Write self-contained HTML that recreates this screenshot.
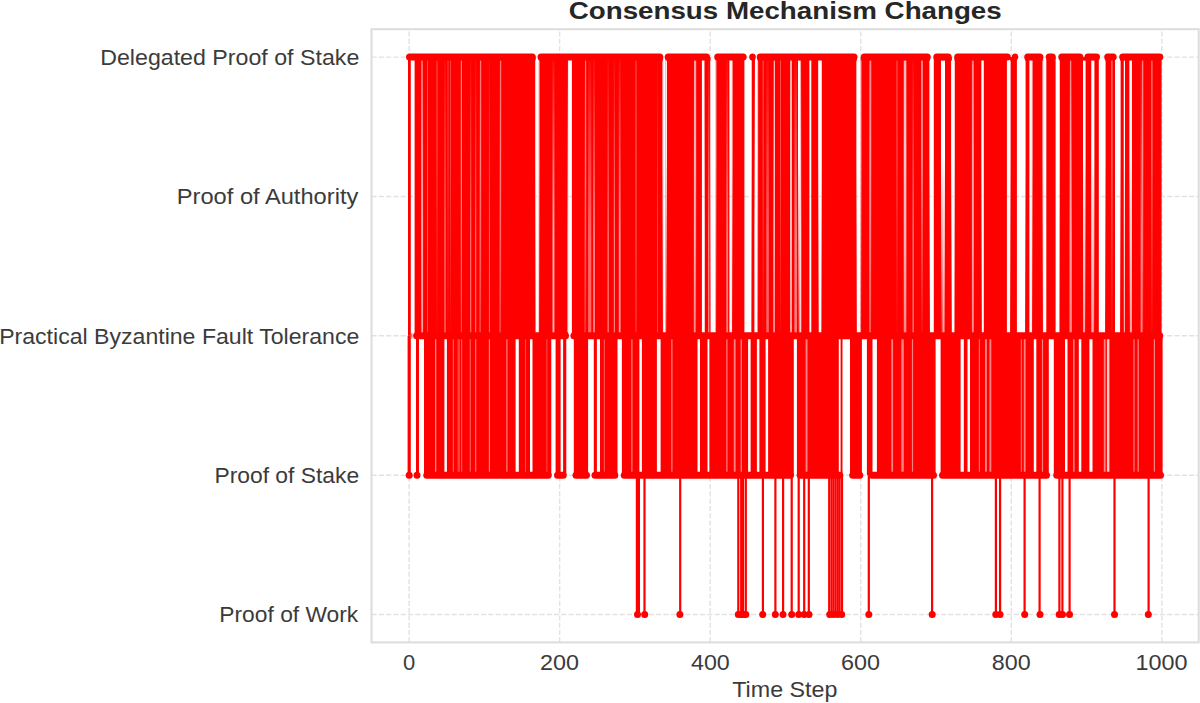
<!DOCTYPE html>
<html><head><meta charset="utf-8"><title>Consensus Mechanism Changes</title>
<style>html,body{margin:0;padding:0;background:#fff;}body{width:1200px;height:703px;overflow:hidden;}svg{display:block;}</style>
</head><body>
<svg width="1200" height="703" viewBox="0 0 1200 703">
<defs><linearGradient id="fd" x1="0" y1="0" x2="0" y2="1"><stop offset="0" stop-color="#fff"/><stop offset="0.35" stop-color="#fff"/><stop offset="1" stop-color="#fff" stop-opacity="0.1"/></linearGradient><linearGradient id="fu" x1="0" y1="0" x2="0" y2="1"><stop offset="0" stop-color="#fff" stop-opacity="0.1"/><stop offset="0.65" stop-color="#fff"/><stop offset="1" stop-color="#fff"/></linearGradient></defs>
<rect width="1200" height="703" fill="#fff"/>
<g stroke="#e2e2e2" stroke-width="1.4" stroke-dasharray="5.1 2.2" fill="none"><line x1="409.1" y1="642.4" x2="409.1" y2="29.2"/><line x1="559.65" y1="642.4" x2="559.65" y2="29.2"/><line x1="710.2" y1="642.4" x2="710.2" y2="29.2"/><line x1="860.75" y1="642.4" x2="860.75" y2="29.2"/><line x1="1011.3" y1="642.4" x2="1011.3" y2="29.2"/><line x1="1161.85" y1="642.4" x2="1161.85" y2="29.2"/><line x1="371.5" y1="57.1" x2="1198.7" y2="57.1"/><line x1="371.5" y1="196.5" x2="1198.7" y2="196.5"/><line x1="371.5" y1="335.8" x2="1198.7" y2="335.8"/><line x1="371.5" y1="475.2" x2="1198.7" y2="475.2"/><line x1="371.5" y1="614.5" x2="1198.7" y2="614.5"/></g>
<g fill="#ff0000"><rect x="408" y="57.1" width="2.8" height="278.7"/><rect x="414.6" y="57.1" width="121" height="278.7"/><rect x="538.8" y="57.1" width="29.3" height="278.7"/><rect x="571.9" y="57.1" width="91.2" height="278.7"/><rect x="665.6" y="57.1" width="36.3" height="278.7"/><rect x="704.4" y="57.1" width="6.2" height="278.7"/><rect x="715.6" y="57.1" width="13.8" height="278.7"/><rect x="731.9" y="57.1" width="12.5" height="278.7"/><rect x="751.3" y="57.1" width="3.7" height="278.7"/><rect x="757.5" y="57.1" width="51.9" height="278.7"/><rect x="811.3" y="57.1" width="7.5" height="278.7"/><rect x="821.3" y="57.1" width="35.6" height="278.7"/><rect x="860.6" y="57.1" width="69.4" height="278.7"/><rect x="933.8" y="57.1" width="18.1" height="278.7"/><rect x="954.4" y="57.1" width="27.5" height="278.7"/><rect x="983.8" y="57.1" width="23.1" height="278.7"/><rect x="1010" y="57.1" width="6.9" height="278.7"/><rect x="1025" y="57.1" width="4.4" height="278.7"/><rect x="1031.9" y="57.1" width="11.2" height="278.7"/><rect x="1046.3" y="57.1" width="9.3" height="278.7"/><rect x="1059.4" y="57.1" width="39.4" height="278.7"/><rect x="1105" y="57.1" width="10" height="278.7"/><rect x="1120" y="57.1" width="41.6" height="278.7"/><rect x="407.6" y="335.8" width="3.2" height="139.4"/><rect x="416" y="335.8" width="3" height="139.4"/><rect x="424" y="335.8" width="20.4" height="139.4"/><rect x="446.9" y="335.8" width="68.7" height="139.4"/><rect x="518.8" y="335.8" width="11.2" height="139.4"/><rect x="532.5" y="335.8" width="18.8" height="139.4"/><rect x="555.6" y="335.8" width="5" height="139.4"/><rect x="563.1" y="335.8" width="3.2" height="139.4"/><rect x="573.8" y="335.8" width="14.3" height="139.4"/><rect x="593.8" y="335.8" width="3.1" height="139.4"/><rect x="600" y="335.8" width="17.5" height="139.4"/><rect x="621.9" y="335.8" width="17.5" height="139.4"/><rect x="641.9" y="335.8" width="15" height="139.4"/><rect x="660.6" y="335.8" width="36.9" height="139.4"/><rect x="700" y="335.8" width="7.5" height="139.4"/><rect x="709.4" y="335.8" width="38.7" height="139.4"/><rect x="750.6" y="335.8" width="6.3" height="139.4"/><rect x="759.4" y="335.8" width="6.2" height="139.4"/><rect x="768.1" y="335.8" width="25.7" height="139.4"/><rect x="796.9" y="335.8" width="41.9" height="139.4"/><rect x="840.6" y="335.8" width="1.9" height="139.4"/><rect x="850" y="335.8" width="11.9" height="139.4"/><rect x="866.9" y="335.8" width="5.6" height="139.4"/><rect x="876.9" y="335.8" width="58.7" height="139.4"/><rect x="940.6" y="335.8" width="20" height="139.4"/><rect x="963.8" y="335.8" width="3.7" height="139.4"/><rect x="970" y="335.8" width="63.8" height="139.4"/><rect x="1036.3" y="335.8" width="12.5" height="139.4"/><rect x="1053.8" y="335.8" width="11.2" height="139.4"/><rect x="1067.5" y="335.8" width="11.3" height="139.4"/><rect x="1081.3" y="335.8" width="8.1" height="139.4"/><rect x="1092.5" y="335.8" width="70.1" height="139.4"/><rect x="635.8" y="475.2" width="2.2" height="139.3"/><rect x="637.8" y="475.2" width="2.2" height="139.3"/><rect x="643.4" y="475.2" width="2.2" height="139.3"/><rect x="679.1" y="475.2" width="2.2" height="139.3"/><rect x="737.2" y="475.2" width="2.2" height="139.3"/><rect x="740.1" y="475.2" width="2.2" height="139.3"/><rect x="741.9" y="475.2" width="2.2" height="139.3"/><rect x="744.7" y="475.2" width="2.2" height="139.3"/><rect x="761.8" y="475.2" width="2.2" height="139.3"/><rect x="774.3" y="475.2" width="2.2" height="139.3"/><rect x="782" y="475.2" width="2.2" height="139.3"/><rect x="790.6" y="475.2" width="2.2" height="139.3"/><rect x="797.6" y="475.2" width="2.2" height="139.3"/><rect x="803.1" y="475.2" width="2.2" height="139.3"/><rect x="807.7" y="475.2" width="2.2" height="139.3"/><rect x="828.1" y="475.2" width="2.2" height="139.3"/><rect x="830.4" y="475.2" width="2.2" height="139.3"/><rect x="832.4" y="475.2" width="2.2" height="139.3"/><rect x="834.5" y="475.2" width="2.2" height="139.3"/><rect x="836.6" y="475.2" width="2.2" height="139.3"/><rect x="838.5" y="475.2" width="2.2" height="139.3"/><rect x="840.9" y="475.2" width="2.2" height="139.3"/><rect x="867.7" y="475.2" width="2.2" height="139.3"/><rect x="931" y="475.2" width="2.2" height="139.3"/><rect x="994.8" y="475.2" width="2.2" height="139.3"/><rect x="999" y="475.2" width="2.2" height="139.3"/><rect x="1023.5" y="475.2" width="2.2" height="139.3"/><rect x="1038.5" y="475.2" width="2.2" height="139.3"/><rect x="1058.3" y="475.2" width="2.2" height="139.3"/><rect x="1061.3" y="475.2" width="2.2" height="139.3"/><rect x="1068.5" y="475.2" width="2.2" height="139.3"/><rect x="1113.4" y="475.2" width="2.2" height="139.3"/><rect x="1147.5" y="475.2" width="2.2" height="139.3"/><rect x="738.3" y="613.4" width="7.5" height="2.2"/><rect x="829.7" y="613.4" width="12" height="2.2"/><rect x="406" y="53.6" width="129.8" height="7" rx="3.5"/><rect x="537.5" y="53.6" width="125.8" height="7" rx="3.5"/><rect x="664.7" y="53.6" width="45.3" height="7" rx="3.5"/><rect x="714.2" y="53.6" width="32.5" height="7" rx="3.5"/><rect x="749.2" y="53.6" width="6.6" height="7" rx="3.5"/><rect x="756.7" y="53.6" width="100.8" height="7" rx="3.5"/><rect x="860.8" y="53.6" width="70" height="7" rx="3.5"/><rect x="933.3" y="53.6" width="18.4" height="7" rx="3.5"/><rect x="954.2" y="53.6" width="56.6" height="7" rx="3.5"/><rect x="1011.8" y="53.6" width="6.5" height="7" rx="3.5"/><rect x="1024.2" y="53.6" width="19.2" height="7" rx="3.5"/><rect x="1045.7" y="53.6" width="10.1" height="7" rx="3.5"/><rect x="1058.3" y="53.6" width="25" height="7" rx="3.5"/><rect x="1084.4" y="53.6" width="15.6" height="7" rx="3.5"/><rect x="1104.2" y="53.6" width="12.5" height="7" rx="3.5"/><rect x="1119.2" y="53.6" width="44.1" height="7" rx="3.5"/><rect x="411.5" y="332.3" width="0.8" height="7" rx="3.5"/><rect x="413.1" y="332.3" width="155.9" height="7" rx="3.5"/><rect x="570.4" y="332.3" width="592.8" height="7" rx="3.5"/><rect x="405.7" y="471.7" width="7" height="7" rx="3.5"/><rect x="413.5" y="471.7" width="7" height="7" rx="3.5"/><rect x="423.3" y="471.7" width="128.4" height="7" rx="3.5"/><rect x="554" y="471.7" width="12.7" height="7" rx="3.5"/><rect x="572.5" y="471.7" width="17.5" height="7" rx="3.5"/><rect x="591.5" y="471.7" width="26.8" height="7" rx="3.5"/><rect x="620.8" y="471.7" width="173.2" height="7" rx="3.5"/><rect x="796.7" y="471.7" width="46.6" height="7" rx="3.5"/><rect x="849.2" y="471.7" width="14.1" height="7" rx="3.5"/><rect x="868.3" y="471.7" width="68.7" height="7" rx="3.5"/><rect x="939" y="471.7" width="111" height="7" rx="3.5"/><rect x="1053.3" y="471.7" width="110.7" height="7" rx="3.5"/><circle cx="637.5" cy="614.5" r="3.5"/><circle cx="644.7" cy="614.5" r="3.5"/><circle cx="679.9" cy="614.5" r="3.5"/><circle cx="738.3" cy="614.5" r="3.5"/><circle cx="741.2" cy="614.5" r="3.5"/><circle cx="743.6" cy="614.5" r="3.5"/><circle cx="745.8" cy="614.5" r="3.5"/><circle cx="762.7" cy="614.5" r="3.5"/><circle cx="775.3" cy="614.5" r="3.5"/><circle cx="783" cy="614.5" r="3.5"/><circle cx="791.7" cy="614.5" r="3.5"/><circle cx="798.7" cy="614.5" r="3.5"/><circle cx="804.2" cy="614.5" r="3.5"/><circle cx="809" cy="614.5" r="3.5"/><circle cx="829.7" cy="614.5" r="3.5"/><circle cx="833.3" cy="614.5" r="3.5"/><circle cx="837.5" cy="614.5" r="3.5"/><circle cx="841.7" cy="614.5" r="3.5"/><circle cx="868.8" cy="614.5" r="3.5"/><circle cx="932.2" cy="614.5" r="3.5"/><circle cx="995.8" cy="614.5" r="3.5"/><circle cx="1000" cy="614.5" r="3.5"/><circle cx="1024.7" cy="614.5" r="3.5"/><circle cx="1040" cy="614.5" r="3.5"/><circle cx="1059.2" cy="614.5" r="3.5"/><circle cx="1062.5" cy="614.5" r="3.5"/><circle cx="1069.5" cy="614.5" r="3.5"/><circle cx="1114.5" cy="614.5" r="3.5"/><circle cx="1148.3" cy="614.5" r="3.5"/></g>
<g fill="#ffffff"><rect x="421.4" y="60.6" width="1.2" height="271.7" fill="url(#fd)" fill-opacity="0.6"/><rect x="436.5" y="60.6" width="1" height="271.7" fill="url(#fd)" fill-opacity="0.3"/><rect x="460.8" y="60.6" width="1.1" height="271.7" fill="url(#fd)" fill-opacity="0.5"/><rect x="480.1" y="60.6" width="1.1" height="271.7" fill="url(#fd)" fill-opacity="0.5"/><rect x="500.1" y="60.6" width="1.1" height="271.7" fill="url(#fd)" fill-opacity="0.5"/><rect x="585.1" y="60.6" width="1.1" height="271.7" fill="url(#fd)" fill-opacity="0.5"/><rect x="635.5" y="60.6" width="1" height="271.7" fill="url(#fd)" fill-opacity="0.3"/><rect x="694" y="60.6" width="2.2" height="271.7" fill="url(#fd)" fill-opacity="0.6"/><rect x="762.6" y="60.6" width="1.1" height="271.7" fill="url(#fd)" fill-opacity="0.3"/><rect x="773.8" y="60.6" width="1.2" height="271.7" fill="url(#fd)" fill-opacity="0.7"/><rect x="780" y="60.6" width="1" height="271.7" fill="url(#fd)" fill-opacity="0.3"/><rect x="790.2" y="60.6" width="1.6" height="271.7" fill="url(#fd)" fill-opacity="0.8"/><rect x="869.4" y="60.6" width="1.9" height="271.7" fill="url(#fd)" fill-opacity="0.5"/><rect x="896.4" y="60.6" width="1.2" height="271.7" fill="url(#fd)" fill-opacity="0.3"/><rect x="903.8" y="60.6" width="2.5" height="271.7" fill="url(#fd)" fill-opacity="0.7"/><rect x="921" y="60.6" width="2" height="271.7" fill="url(#fd)" fill-opacity="0.5"/><rect x="971.9" y="60.6" width="1.9" height="271.7" fill="url(#fd)" fill-opacity="0.5"/><rect x="1070" y="60.6" width="1.2" height="271.7" fill="url(#fd)" fill-opacity="0.5"/><rect x="1111.3" y="60.6" width="1.2" height="271.7" fill="url(#fd)" fill-opacity="0.5"/><rect x="1142.4" y="60.6" width="0.8" height="271.7" fill="url(#fd)" fill-opacity="0.8"/><rect x="1151.3" y="60.6" width="1.2" height="271.7" fill="url(#fd)" fill-opacity="0.5"/><rect x="427" y="60.6" width="1" height="271.7" fill="url(#fd)" fill-opacity="0.25"/><rect x="447.5" y="60.6" width="1" height="271.7" fill="url(#fd)" fill-opacity="0.25"/><rect x="450" y="60.6" width="1" height="271.7" fill="url(#fd)" fill-opacity="0.25"/><rect x="535" y="60.6" width="0.6" height="271.7" fill="url(#fd)" fill-opacity="1"/><rect x="538.8" y="60.6" width="0.6" height="271.7" fill="url(#fd)" fill-opacity="1"/><rect x="662.5" y="60.6" width="0.6" height="271.7" fill="url(#fd)" fill-opacity="1"/><rect x="665.6" y="60.6" width="1.3" height="271.7" fill="url(#fd)" fill-opacity="1"/><rect x="710" y="60.6" width="0.6" height="271.7" fill="url(#fd)" fill-opacity="1"/><rect x="715.6" y="60.6" width="0.7" height="271.7" fill="url(#fd)" fill-opacity="1"/><rect x="731.9" y="60.6" width="0.6" height="271.7" fill="url(#fd)" fill-opacity="1"/><rect x="751.3" y="60.6" width="0.6" height="271.7" fill="url(#fd)" fill-opacity="1"/><rect x="757.5" y="60.6" width="0.6" height="271.7" fill="url(#fd)" fill-opacity="1"/><rect x="798" y="60.6" width="2.6" height="271.7" fill="url(#fd)" fill-opacity="1"/><rect x="818" y="60.6" width="0.8" height="271.7" fill="url(#fd)" fill-opacity="1"/><rect x="821.3" y="60.6" width="0.7" height="271.7" fill="url(#fd)" fill-opacity="1"/><rect x="856.3" y="60.6" width="0.6" height="271.7" fill="url(#fd)" fill-opacity="1"/><rect x="860.6" y="60.6" width="0.7" height="271.7" fill="url(#fd)" fill-opacity="1"/><rect x="929.4" y="60.6" width="0.6" height="271.7" fill="url(#fd)" fill-opacity="1"/><rect x="941" y="60.6" width="4" height="271.7" fill="url(#fd)" fill-opacity="1"/><rect x="951" y="60.6" width="0.9" height="271.7" fill="url(#fd)" fill-opacity="1"/><rect x="954.4" y="60.6" width="0.6" height="271.7" fill="url(#fd)" fill-opacity="1"/><rect x="981.3" y="60.6" width="0.6" height="271.7" fill="url(#fd)" fill-opacity="1"/><rect x="1010" y="60.6" width="0.6" height="271.7" fill="url(#fd)" fill-opacity="1"/><rect x="1025" y="60.6" width="0.6" height="271.7" fill="url(#fd)" fill-opacity="1"/><rect x="1031.9" y="60.6" width="0.6" height="271.7" fill="url(#fd)" fill-opacity="1"/><rect x="1042.5" y="60.6" width="0.6" height="271.7" fill="url(#fd)" fill-opacity="1"/><rect x="1059.4" y="60.6" width="0.6" height="271.7" fill="url(#fd)" fill-opacity="1"/><rect x="1083" y="60.6" width="2.6" height="271.7" fill="url(#fd)" fill-opacity="1"/><rect x="1091.3" y="60.6" width="3.1" height="271.7" fill="url(#fd)" fill-opacity="1"/><rect x="1105" y="60.6" width="0.6" height="271.7" fill="url(#fd)" fill-opacity="1"/><rect x="1120" y="60.6" width="0.6" height="271.7" fill="url(#fd)" fill-opacity="1"/><rect x="1123.8" y="60.6" width="1.2" height="271.7" fill="url(#fd)" fill-opacity="1"/><rect x="1129.4" y="60.6" width="2.5" height="271.7" fill="url(#fd)" fill-opacity="1"/><rect x="421.3" y="60.6" width="1.8" height="271.7" fill="url(#fu)" fill-opacity="0.6"/><rect x="427" y="60.6" width="1" height="271.7" fill="url(#fu)" fill-opacity="0.25"/><rect x="444.4" y="60.6" width="1.2" height="271.7" fill="url(#fu)" fill-opacity="0.5"/><rect x="460.8" y="60.6" width="1" height="271.7" fill="url(#fu)" fill-opacity="0.3"/><rect x="470" y="60.6" width="1.3" height="271.7" fill="url(#fu)" fill-opacity="0.4"/><rect x="475" y="60.6" width="1.3" height="271.7" fill="url(#fu)" fill-opacity="0.4"/><rect x="479.5" y="60.6" width="1" height="271.7" fill="url(#fu)" fill-opacity="0.4"/><rect x="488.9" y="60.6" width="1" height="271.7" fill="url(#fu)" fill-opacity="0.4"/><rect x="499.5" y="60.6" width="1" height="271.7" fill="url(#fu)" fill-opacity="0.4"/><rect x="552.5" y="60.6" width="1.9" height="271.7" fill="url(#fu)" fill-opacity="0.7"/><rect x="584.5" y="60.6" width="1" height="271.7" fill="url(#fu)" fill-opacity="0.3"/><rect x="588.1" y="60.6" width="3.2" height="271.7" fill="url(#fu)" fill-opacity="0.4"/><rect x="593.1" y="60.6" width="1.9" height="271.7" fill="url(#fu)" fill-opacity="0.5"/><rect x="607.5" y="60.6" width="1.3" height="271.7" fill="url(#fu)" fill-opacity="0.5"/><rect x="613.8" y="60.6" width="1.2" height="271.7" fill="url(#fu)" fill-opacity="0.5"/><rect x="618.8" y="60.6" width="1.8" height="271.7" fill="url(#fu)" fill-opacity="0.6"/><rect x="635.5" y="60.6" width="1" height="271.7" fill="url(#fu)" fill-opacity="0.25"/><rect x="657" y="60.6" width="1" height="271.7" fill="url(#fu)" fill-opacity="0.25"/><rect x="693.8" y="60.6" width="1.8" height="271.7" fill="url(#fu)" fill-opacity="0.5"/><rect x="708" y="60.6" width="1.4" height="271.7" fill="url(#fu)" fill-opacity="0.5"/><rect x="726.3" y="60.6" width="1.8" height="271.7" fill="url(#fu)" fill-opacity="0.5"/><rect x="766.3" y="60.6" width="2.5" height="271.7" fill="url(#fu)" fill-opacity="0.4"/><rect x="773.1" y="60.6" width="1.9" height="271.7" fill="url(#fu)" fill-opacity="0.5"/><rect x="790" y="60.6" width="1.9" height="271.7" fill="url(#fu)" fill-opacity="0.6"/><rect x="794.4" y="60.6" width="2.5" height="271.7" fill="url(#fu)" fill-opacity="0.5"/><rect x="799.4" y="60.6" width="1.9" height="271.7" fill="url(#fu)" fill-opacity="0.8"/><rect x="869.4" y="60.6" width="1.2" height="271.7" fill="url(#fu)" fill-opacity="0.5"/><rect x="903.8" y="60.6" width="2.5" height="271.7" fill="url(#fu)" fill-opacity="0.5"/><rect x="912.5" y="60.6" width="1.3" height="271.7" fill="url(#fu)" fill-opacity="0.5"/><rect x="942.5" y="60.6" width="1.9" height="271.7" fill="url(#fu)" fill-opacity="0.6"/><rect x="971.9" y="60.6" width="1.9" height="271.7" fill="url(#fu)" fill-opacity="0.5"/><rect x="1069.4" y="60.6" width="2.5" height="271.7" fill="url(#fu)" fill-opacity="0.5"/><rect x="1083.1" y="60.6" width="1.9" height="271.7" fill="url(#fu)" fill-opacity="0.6"/><rect x="1091.3" y="60.6" width="2.5" height="271.7" fill="url(#fu)" fill-opacity="0.6"/><rect x="1123.8" y="60.6" width="1.2" height="271.7" fill="url(#fu)" fill-opacity="0.6"/><rect x="1130" y="60.6" width="1.9" height="271.7" fill="url(#fu)" fill-opacity="0.6"/><rect x="1140.6" y="60.6" width="1.9" height="271.7" fill="url(#fu)" fill-opacity="0.5"/><rect x="567.5" y="60.6" width="0.6" height="271.7" fill="url(#fu)" fill-opacity="1"/><rect x="704.4" y="60.6" width="0.6" height="271.7" fill="url(#fu)" fill-opacity="1"/><rect x="754.4" y="60.6" width="0.6" height="271.7" fill="url(#fu)" fill-opacity="1"/><rect x="452.8" y="339.3" width="1" height="132.4" fill-opacity="0.4"/><rect x="457.5" y="339.3" width="2.5" height="132.4" fill-opacity="0.25"/><rect x="461.2" y="339.3" width="1" height="132.4" fill-opacity="0.4"/><rect x="475" y="339.3" width="1.3" height="132.4" fill-opacity="0.4"/><rect x="525" y="339.3" width="1" height="132.4" fill-opacity="0.3"/><rect x="435" y="339.3" width="1.3" height="132.4" fill-opacity="0.5"/><rect x="469.6" y="339.3" width="1.4" height="132.4" fill-opacity="0.3"/><rect x="488.8" y="339.3" width="1.2" height="132.4" fill-opacity="0.5"/><rect x="506.3" y="339.3" width="1.2" height="132.4" fill-opacity="0.5"/><rect x="546.4" y="339.3" width="1" height="132.4" fill-opacity="0.3"/><rect x="603.8" y="339.3" width="1.2" height="132.4" fill-opacity="0.3"/><rect x="631.3" y="339.3" width="1.2" height="132.4" fill-opacity="0.5"/><rect x="671.3" y="339.3" width="1.2" height="132.4" fill-opacity="0.5"/><rect x="726.3" y="339.3" width="1.2" height="132.4" fill-opacity="0.5"/><rect x="733.8" y="339.3" width="1.8" height="132.4" fill-opacity="0.5"/><rect x="740.6" y="339.3" width="1.3" height="132.4" fill-opacity="0.5"/><rect x="805.6" y="339.3" width="1.9" height="132.4" fill-opacity="0.5"/><rect x="891.3" y="339.3" width="1.8" height="132.4" fill-opacity="0.5"/><rect x="901.3" y="339.3" width="2.5" height="132.4" fill-opacity="0.5"/><rect x="911.9" y="339.3" width="1.2" height="132.4" fill-opacity="0.5"/><rect x="985" y="339.3" width="1.9" height="132.4" fill-opacity="0.5"/><rect x="989.4" y="339.3" width="1.9" height="132.4" fill-opacity="0.5"/><rect x="1020.8" y="339.3" width="1" height="132.4" fill-opacity="0.5"/><rect x="1023.8" y="339.3" width="1.8" height="132.4" fill-opacity="0.5"/><rect x="1041.9" y="339.3" width="1.2" height="132.4" fill-opacity="0.5"/><rect x="1073.1" y="339.3" width="1.5" height="132.4" fill-opacity="0.5"/><rect x="1106.9" y="339.3" width="2.5" height="132.4" fill-opacity="0.8"/><rect x="978.8" y="339.3" width="1.2" height="132.4" fill-opacity="0.4"/><rect x="1103.8" y="339.3" width="1.8" height="132.4" fill-opacity="0.5"/><rect x="1133.1" y="339.3" width="1.9" height="132.4" fill-opacity="0.3"/><rect x="1137.5" y="339.3" width="1.3" height="132.4" fill-opacity="0.5"/><rect x="1153.8" y="339.3" width="1.2" height="132.4" fill-opacity="0.5"/></g>
<rect x="371.5" y="29.2" width="827.2" height="613.2" fill="none" stroke="#dcdcdc" stroke-width="2"/>
<g font-family="Liberation Sans, sans-serif" fill="#3b3b3b"><text x="100.2" y="64.8" font-size="22.3" textLength="259.13" lengthAdjust="spacingAndGlyphs">Delegated Proof of Stake</text><text x="176.77" y="204.2" font-size="22.3" textLength="181.57" lengthAdjust="spacingAndGlyphs">Proof of Authority</text><text x="-0.88" y="343.5" font-size="22.3" textLength="360.2" lengthAdjust="spacingAndGlyphs">Practical Byzantine Fault Tolerance</text><text x="214.43" y="482.9" font-size="22.3" textLength="144.69" lengthAdjust="spacingAndGlyphs">Proof of Stake</text><text x="219.34" y="622.2" font-size="22.3" textLength="138.93" lengthAdjust="spacingAndGlyphs">Proof of Work</text><text x="402.99" y="669.9" font-size="22.3" textLength="12.21" lengthAdjust="spacingAndGlyphs">0</text><text x="540.05" y="669.9" font-size="22.3" textLength="38.93" lengthAdjust="spacingAndGlyphs">200</text><text x="690.99" y="669.9" font-size="22.3" textLength="38.8" lengthAdjust="spacingAndGlyphs">400</text><text x="841.1" y="669.9" font-size="22.3" textLength="39.02" lengthAdjust="spacingAndGlyphs">600</text><text x="991.81" y="669.9" font-size="22.3" textLength="38.89" lengthAdjust="spacingAndGlyphs">800</text><text x="1135.4" y="669.9" font-size="22.3" textLength="52.04" lengthAdjust="spacingAndGlyphs">1000</text><text x="732.28" y="697.1" font-size="22.3" textLength="105.19" lengthAdjust="spacingAndGlyphs">Time Step</text><text fill="#262626" x="568.76" y="18.7" font-size="24.8" font-weight="bold" textLength="432.97" lengthAdjust="spacingAndGlyphs">Consensus Mechanism Changes</text></g>
</svg>
</body></html>
